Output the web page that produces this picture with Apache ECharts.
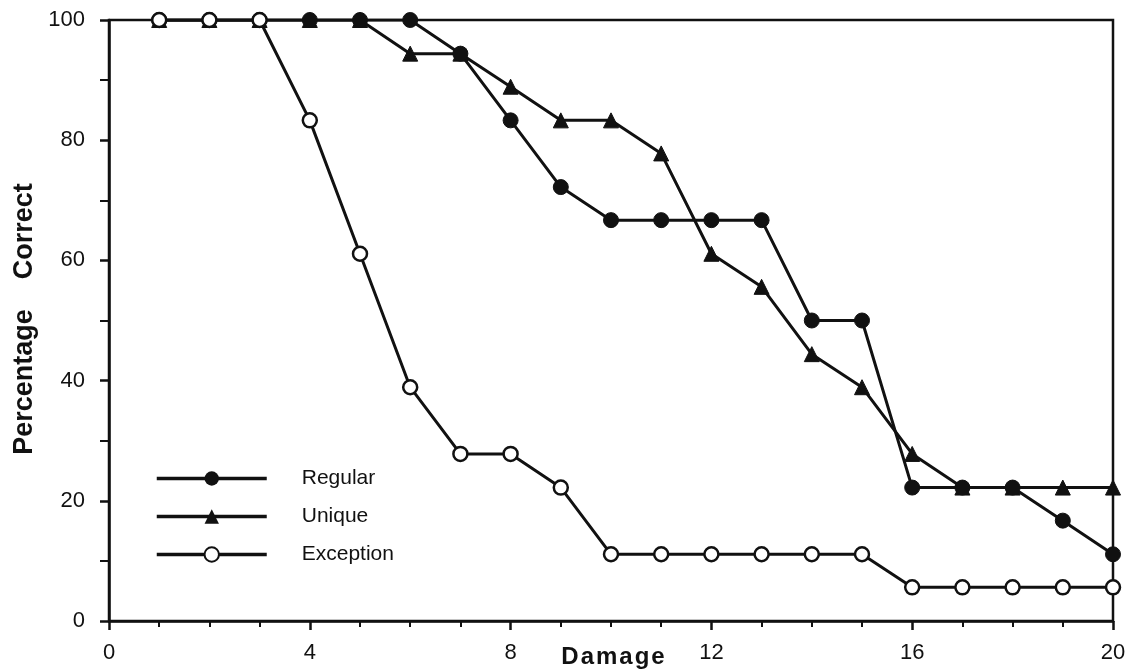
<!DOCTYPE html>
<html>
<head>
<meta charset="utf-8">
<script src="https://cdn.jsdelivr.net/npm/echarts@6/dist/echarts.min.js"></script>
<style>html,body{margin:0;padding:0;background:#fff;overflow:hidden}#c{width:1129px;height:670px}</style>
</head>
<body>
<div id="c"></div>
<script>
const damage = [1,2,3,4,5,6,7,8,9,10,11,12,13,14,15,16,17,18,19,20];
const regular = [100,100,100,100,100,100,94.4,83.3,72.2,66.7,66.7,66.7,66.7,50,50,22.2,22.2,22.2,16.7,11.1];
const unique = [100,100,100,100,100,94.4,94.4,88.9,83.3,83.3,77.8,61.1,55.6,44.4,38.9,27.8,22.2,22.2,22.2,22.2];
const exception = [100,100,100,83.3,61.1,38.9,27.8,27.8,22.2,11.1,11.1,11.1,11.1,11.1,11.1,5.6,5.6,5.6,5.6,5.6];
const xTicks = [0,4,8,12,16,20];
const yTicks = [0,20,40,60,80,100];
const seriesNames = ['Regular','Unique','Exception'];
const xTitle = 'Damage';
const yTitle = 'Percentage    Correct';

const pair = arr => damage.map((d,i)=>[d,arr[i]]);
const spaced = s => s.split('').join('\u200A');
const ink = '#111';
const chart = echarts.init(document.getElementById('c'));
const baseLine = {type:'line', lineStyle:{color:ink,width:3}, itemStyle:{color:ink,borderColor:ink}, z:2};
chart.setOption({
  animation:false,
  backgroundColor:'#fff',
  grid:{left:109,right:16,top:20,bottom:49,show:true,borderColor:ink,borderWidth:2.5,backgroundColor:'transparent',
    containLabel:false, outerBoundsMode:'none'},
  legend:{
    orient:'vertical', left:155, top:468, padding:0, itemWidth:110, itemHeight:18, itemGap:17,
    data:seriesNames,
    lineStyle:{width:3.5,color:ink},
    textStyle:{fontFamily:'Liberation Sans, Arial',fontSize:21,color:ink,padding:[0,0,0,30]}
  },
  xAxis:{
    type:'value', min:0, max:20, interval:4,
    name:spaced(xTitle), nameLocation:'middle', nameGap:24, nameMoveOverlap:false,
    nameTextStyle:{fontFamily:'Liberation Sans, Arial',fontWeight:'bold',fontSize:24,color:ink,padding:[0,0,0,4]},
    axisLine:{lineStyle:{color:ink,width:2.5}},
    axisTick:{inside:false,length:9,lineStyle:{color:ink,width:2.5}},
    minorTick:{show:true,splitNumber:4,length:6,lineStyle:{color:ink,width:2}},
    splitLine:{show:false},
    axisLabel:{color:ink,fontSize:22,fontFamily:'Liberation Sans, Arial',margin:21,
      formatter:v=> xTicks.includes(v) ? String(v) : ''}
  },
  yAxis:{
    type:'value', min:0, max:100, interval:20,
    axisLine:{lineStyle:{color:ink,width:2.5}},
    axisTick:{length:9,lineStyle:{color:ink,width:2.5}},
    minorTick:{show:true,splitNumber:2,length:9,lineStyle:{color:ink,width:2}},
    splitLine:{show:false},
    axisLabel:{color:ink,fontSize:22,fontFamily:'Liberation Sans, Arial',margin:24,
      formatter:v=> yTicks.includes(v) ? String(v) : ''}
  },
  graphic:[{
    type:'text', x:25, y:319, rotation:Math.PI/2,
    style:{text:yTitle, fontFamily:'Liberation Sans, Arial', fontWeight:'bold', fontSize:27,
      fill:ink, align:'center', verticalAlign:'middle'}
  }],
  series:[
    Object.assign({}, baseLine, {name:'Regular', data:pair(regular), symbol:'circle', symbolSize:15, z:3}),
    Object.assign({}, baseLine, {name:'Unique', data:pair(unique), symbol:'triangle', symbolSize:15, z:2}),
    Object.assign({}, baseLine, {name:'Exception', data:pair(exception), symbol:'circle', symbolSize:14,
      itemStyle:{color:'#fff',borderColor:ink,borderWidth:2.5}, z:4})
  ]
});
</script>
</body>
</html>
